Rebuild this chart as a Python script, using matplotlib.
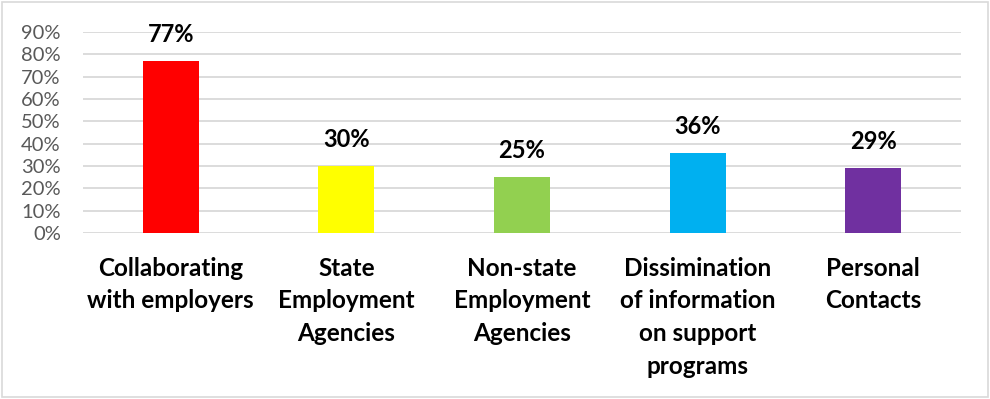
import matplotlib
matplotlib.use('Agg')
import matplotlib.pyplot as plt
from matplotlib.patches import Rectangle
from matplotlib.ticker import FuncFormatter, MultipleLocator

plt.rcParams['font.family'] = ['Lato', 'DejaVu Sans']

categories = ["Collaborating\nwith employers", "State\nEmployment\nAgencies",
              "Non-state\nEmployment\nAgencies",
              "Dissimination\nof information\non support\nprograms",
              "Personal\nContacts"]
values = [0.77, 0.30, 0.25, 0.36, 0.29]
bar_colors = ["#FF0000", "#FFFF00", "#92D050", "#00B0F0", "#7030A0"]

fig = plt.figure(figsize=(9.9, 3.99), dpi=100)
W, H = 990, 399
ax = fig.add_axes([83 / W, (H - 233) / H, (961 - 83) / W, (233 - 32) / H])

x = range(len(categories))
bars = ax.bar(x, values, width=0.32, color=bar_colors, zorder=3)

ax.set_xlim(-0.5, len(categories) - 0.5)
ax.set_ylim(0, 0.9)
ax.yaxis.set_major_locator(MultipleLocator(0.1))
ax.yaxis.set_major_formatter(FuncFormatter(lambda v, p: f"{round(v * 100)}%"))
ax.grid(axis='y', color='#D9D9D9', lw=1.3, zorder=0)
ax.set_axisbelow(True)
for s in ax.spines.values():
    s.set_visible(False)
ax.tick_params(axis='y', length=0, pad=16, labelsize=14.5, labelcolor='#595959')
ax.tick_params(axis='x', length=0, pad=17)

ax.set_xticks(list(x))
ax.set_xticklabels(categories, fontsize=17.5, fontweight='bold',
                   linespacing=1.52, multialignment='center')

for b, v in zip(bars, values):
    ax.annotate(f"{round(v * 100)}%", (b.get_x() + b.get_width() / 2, v),
                xytext=(0, 15), textcoords='offset pixels', ha='center',
                va='bottom', fontsize=17, fontweight='bold', color='black')

fig.patches.append(Rectangle((2 / W, 2 / H), (986 / W), (395 / H),
                             transform=fig.transFigure, fill=False,
                             ec='#D9D9D9', lw=1.2))

fig.savefig('out.png', dpi=100)
